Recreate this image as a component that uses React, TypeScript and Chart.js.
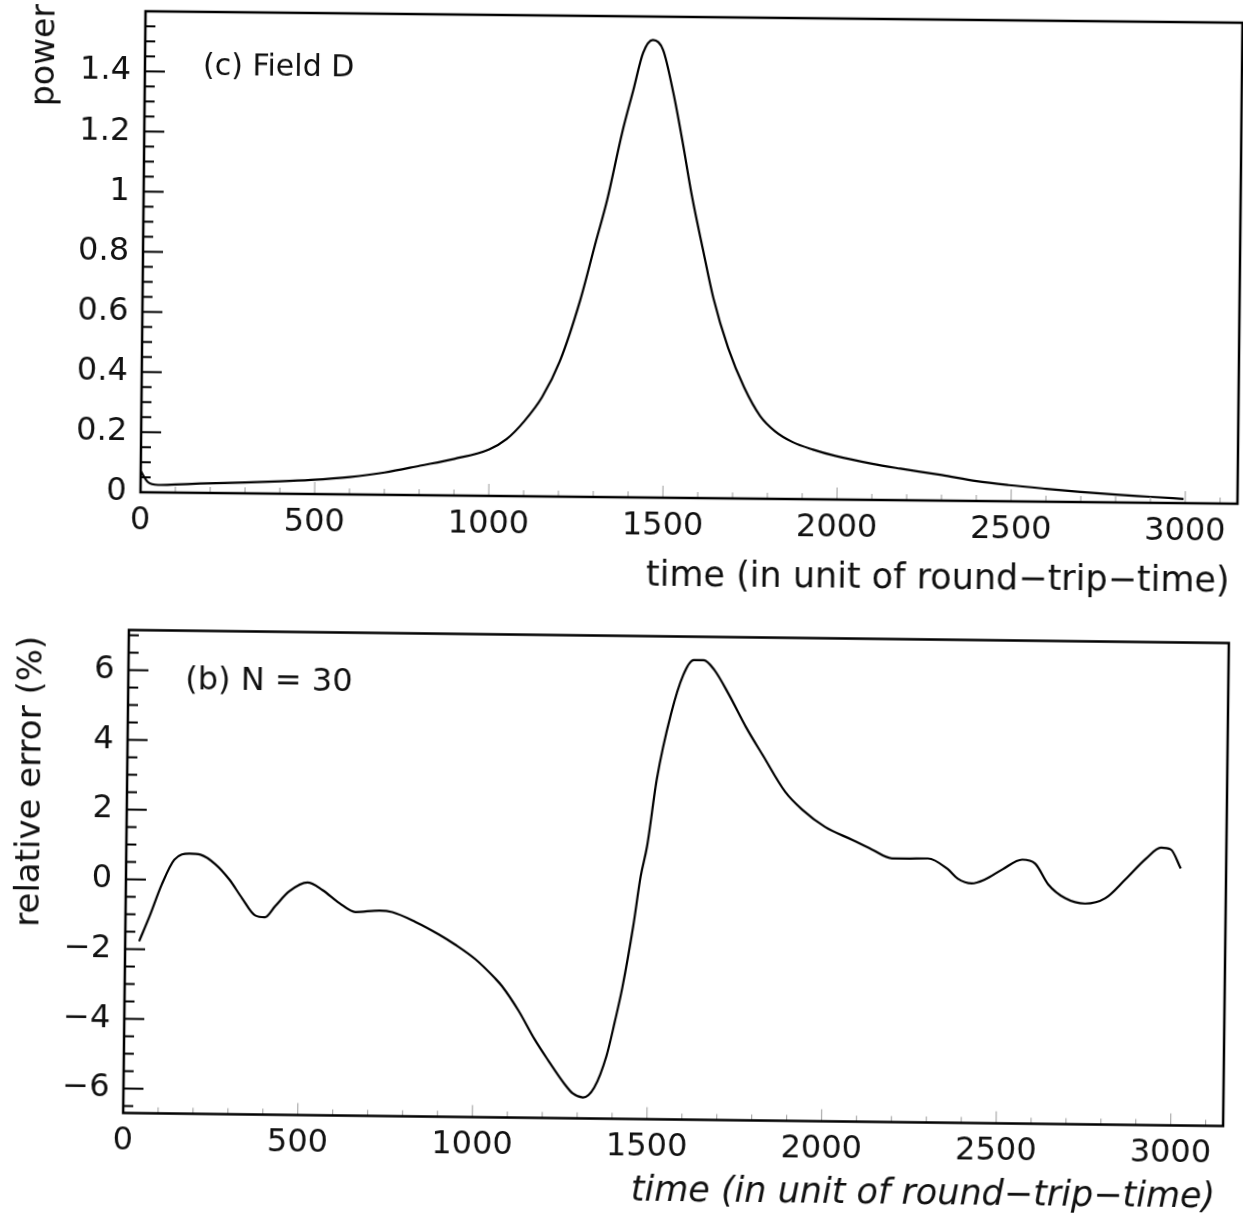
import React, { useEffect, useRef } from "react";
import { Chart, registerables } from "chart.js";

Chart.register(...registerables);

// ---------- data ----------
const xTickValues = [0, 500, 1000, 1500, 2000, 2500, 3000];
const xTickLabels = ["0", "500", "1000", "1500", "2000", "2500", "3000"];

const powerTickValues = [0, 0.2, 0.4, 0.6, 0.8, 1, 1.2, 1.4];
const powerTickLabels = ["0", "0.2", "0.4", "0.6", "0.8", "1", "1.2", "1.4"];

const errorTickValues = [-6, -4, -2, 0, 2, 4, 6];
const errorTickLabels = ["\u22126", "\u22124", "\u22122", "0", "2", "4", "6"];

const powerTime = [
  0, 20, 50, 100, 171, 300, 400, 489, 600, 700, 802, 900, 1000, 1050, 1100, 1150, 1200, 1257,
  1300, 1331, 1372, 1403, 1430, 1458, 1487, 1518, 1545, 1575, 1608, 1639, 1683, 1730, 1777,
  1820, 1870, 1930, 1994, 2100, 2181, 2300, 2400, 2492, 2600, 2700, 2800, 2900, 2995,
];
const powerValue = [
  0.07, 0.035, 0.025, 0.027, 0.031, 0.036, 0.041, 0.047, 0.058, 0.074, 0.098, 0.122, 0.155, 0.19,
  0.25, 0.33, 0.45, 0.655, 0.85, 0.988, 1.212, 1.355, 1.479, 1.522, 1.49, 1.347, 1.19, 1.001,
  0.825, 0.666, 0.5, 0.37, 0.275, 0.225, 0.19, 0.165, 0.145, 0.12, 0.105, 0.085, 0.066, 0.054,
  0.043, 0.034, 0.026, 0.02, 0.014,
];

const errorTime = [
  40, 69, 103, 138, 181, 213, 256, 296, 333, 371, 399, 428, 468, 520, 563, 612, 658, 727, 764,
  830, 899, 945, 1003, 1060, 1080, 1129, 1175, 1216, 1262, 1287, 1316, 1348, 1382, 1405, 1425,
  1454, 1474, 1491, 1517, 1555, 1589, 1618, 1647, 1678, 1721, 1770, 1819, 1885, 1934, 2000,
  2078, 2135, 2193, 2230, 2296, 2353, 2382, 2422, 2460, 2509, 2566, 2603, 2641, 2690, 2747,
  2805, 2862, 2920, 2963, 2991, 3020,
];
const errorValue = [
  -1.77, -1.05, -0.13, 0.58, 0.76, 0.73, 0.46, 0.03, -0.5, -0.99, -1.04, -0.72, -0.29, -0.03,
  -0.24, -0.61, -0.86, -0.81, -0.85, -1.12, -1.48, -1.76, -2.17, -2.71, -2.93, -3.64, -4.44,
  -5.06, -5.71, -5.99, -6.1, -5.81, -4.9, -3.9, -2.94, -1.18, 0.27, 1.12, 3.07, 4.92, 6.05,
  6.48, 6.48, 6.2, 5.49, 4.58, 3.78, 2.73, 2.23, 1.74, 1.38, 1.11, 0.86, 0.86, 0.87, 0.57, 0.3,
  0.17, 0.29, 0.58, 0.87, 0.76, 0.17, -0.22, -0.37, -0.21, 0.34, 0.94, 1.26, 1.21, 0.67,
];

const topPanelLabel = "(c) Field D";
const topYTitle = "power";
const bottomPanelLabel = "(b) N = 30";
const bottomYTitle = "relative error (%)";
const xTitle = "time (in unit of round\u2212trip\u2212time)";

// ---------- helpers ----------
const FONT = "'DejaVu Sans', 'Noto Sans', sans-serif";
const INK = "#111";

function lookup(values: number[], labels: string[]) {
  return (v: any) => {
    const i = values.findIndex((t) => Math.abs(t - Number(v)) < 1e-6);
    return i >= 0 ? labels[i] : "";
  };
}

type TextItem = {
  text: string;
  x: number;
  y: number;
  font: string;
  align: CanvasTextAlign;
  rotate?: number;
};

type PanelCfg = {
  yFirst: number;
  yMinor: number;
  yMajor: number;
  texts: TextItem[];
};

function decorPlugin(cfg: PanelCfg) {
  return {
    id: "decor",
    afterDraw(chart: any) {
      const { ctx, chartArea: a, scales } = chart;
      const ys = scales.y;
      const xs = scales.x;
      ctx.save();
      ctx.strokeStyle = "#000";
      ctx.lineCap = "butt";
      ctx.lineWidth = 2;
      for (let i = 0; i < 1000; i++) {
        const v = cfg.yFirst + i * cfg.yMinor;
        if (v > ys.max + 1e-9) break;
        if (v < ys.min - 1e-9) continue;
        const r = v / cfg.yMajor;
        const major = Math.abs(r - Math.round(r)) < 1e-6;
        const p = ys.getPixelForValue(v);
        ctx.beginPath();
        ctx.moveTo(a.left, p);
        ctx.lineTo(a.left + (major ? 20 : 10), p);
        ctx.stroke();
      }
      ctx.strokeStyle = "#9a9a9a";
      ctx.lineWidth = 1;
      for (let v = 100; v <= xs.max; v += 100) {
        const major = v % 500 === 0;
        const p = xs.getPixelForValue(v);
        ctx.beginPath();
        ctx.moveTo(p, a.bottom);
        ctx.lineTo(p, a.bottom - (major ? 12 : 6));
        ctx.stroke();
      }
      ctx.strokeStyle = "#000";
      ctx.lineWidth = 2.5;
      ctx.strokeRect(a.left, a.top, a.right - a.left, a.bottom - a.top);
      ctx.fillStyle = INK;
      ctx.textBaseline = "middle";
      for (const t of cfg.texts) {
        ctx.save();
        ctx.font = t.font;
        ctx.textAlign = t.align;
        ctx.translate(t.x, t.y);
        if (t.rotate) ctx.rotate(t.rotate);
        ctx.fillText(t.text, 0, 0);
        ctx.restore();
      }
      ctx.restore();
    },
  };
}

function makeChart(
  canvas: HTMLCanvasElement,
  xs: number[],
  ys: number[],
  yMin: number,
  yMax: number,
  yTicks: number[],
  yLabels: string[],
  box: { left: number; right: number; top: number; bottom: number; h: number },
  cfg: PanelCfg
) {
  return new Chart(canvas, {
    type: "line",
    data: {
      datasets: [
        {
          data: xs.map((t, i) => ({ x: t, y: ys[i] })),
          borderColor: "#000",
          borderWidth: 2.2,
          pointRadius: 0,
          cubicInterpolationMode: "monotone",
          fill: false,
        },
      ],
    },
    options: {
      animation: false,
      responsive: false,
      maintainAspectRatio: false,
      events: [],
      layout: { padding: { left: 0, right: 1243 - box.right, top: box.top, bottom: 0 } },
      plugins: { legend: { display: false }, tooltip: { enabled: false }, title: { display: false } },
      scales: {
        x: {
          type: "linear",
          min: 0,
          max: 3150,
          afterBuildTicks: (s: any) => {
            s.ticks = xTickValues.map((v) => ({ value: v }));
          },
          afterFit: (s: any) => {
            s.height = box.h - box.bottom;
            s.paddingLeft = 0;
            s.paddingRight = 0;
            s.paddingTop = 0;
            s.paddingBottom = 0;
          },
          grid: { display: false, drawTicks: false, tickLength: 0 },
          border: { display: false },
          ticks: {
            autoSkip: false,
            maxRotation: 0,
            padding: 9,
            color: INK,
            font: { family: FONT, size: 32 },
            callback: lookup(xTickValues, xTickLabels),
          },
        },
        y: {
          type: "linear",
          min: yMin,
          max: yMax,
          afterBuildTicks: (s: any) => {
            s.ticks = yTicks.map((v) => ({ value: v }));
          },
          afterFit: (s: any) => {
            s.width = box.left;
            s.paddingLeft = 0;
            s.paddingRight = 0;
            s.paddingTop = 0;
            s.paddingBottom = 0;
          },
          grid: { display: false, drawTicks: false, tickLength: 0 },
          border: { display: false },
          ticks: {
            autoSkip: false,
            padding: 14,
            color: INK,
            font: { family: FONT, size: 32 },
            callback: lookup(yTicks, yLabels),
          },
        },
      },
    } as any,
    plugins: [decorPlugin(cfg) as any],
  });
}

export default function App() {
  const topRef = useRef<HTMLCanvasElement | null>(null);
  const botRef = useRef<HTMLCanvasElement | null>(null);

  useEffect(() => {
    const top = makeChart(
      topRef.current!,
      powerTime,
      powerValue,
      0,
      1.6,
      powerTickValues,
      powerTickLabels,
      { left: 143, right: 1240, top: 17, bottom: 498, h: 610 },
      {
        yFirst: 0,
        yMinor: 0.05,
        yMajor: 0.2,
        texts: [
          { text: topPanelLabel, x: 201, y: 72, font: `30px ${FONT}`, align: "left" },
          { text: topYTitle, x: 43, y: 62, font: `33px ${FONT}`, align: "center", rotate: -Math.PI / 2 },
          { text: xTitle, x: 1233, y: 577, font: `35px ${FONT}`, align: "right" },
        ],
      }
    );
    const bot = makeChart(
      botRef.current!,
      errorTime,
      errorValue,
      -6.7,
      7.15,
      errorTickValues,
      errorTickLabels,
      { left: 126, right: 1226, top: 26.5, bottom: 509.5, h: 614 },
      {
        yFirst: -6.5,
        yMinor: 0.5,
        yMajor: 2,
        texts: [
          { text: bottomPanelLabel, x: 183, y: 77, font: `32px ${FONT}`, align: "left" },
          { text: bottomYTitle, x: 30, y: 179, font: `34px ${FONT}`, align: "center", rotate: -Math.PI / 2 },
          { text: xTitle, x: 1219, y: 582, font: `italic 35px ${FONT}`, align: "right" },
        ],
      }
    );
    return () => {
      top.destroy();
      bot.destroy();
    };
  }, []);

  return (
    <div
      style={{
        position: "absolute",
        left: 0,
        top: 0,
        width: 1243,
        height: 1224,
        background: "#fff",
        overflow: "hidden",
      }}
    >
      <canvas
        ref={topRef}
        width={1243}
        height={610}
        style={{
          position: "absolute",
          left: 0,
          top: 0,
          width: 1243,
          height: 610,
          transform: "rotate(0.6deg)",
          transformOrigin: "691.5px 257.5px",
        }}
      />
      <canvas
        ref={botRef}
        width={1243}
        height={614}
        style={{
          position: "absolute",
          left: 0,
          top: 610,
          width: 1243,
          height: 614,
          transform: "rotate(0.68deg)",
          transformOrigin: "676px 268px",
        }}
      />
    </div>
  );
}
